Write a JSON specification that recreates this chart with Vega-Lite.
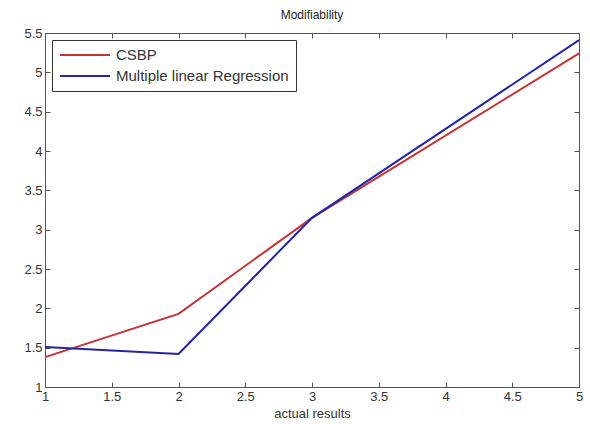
{
  "$schema": "https://vega.github.io/schema/vega-lite/v6.json",
  "width": 534,
  "height": 354,
  "autosize": {"type": "none"},
  "padding": {"left": 45, "top": 33, "right": 11, "bottom": 37},
  "background": "white",
  "title": {"text": "Modifiability", "fontSize": 12, "fontWeight": "normal", "font": "Liberation Sans", "color": "#222", "offset": 5},
  "data": {"values": [
    {"x": 1, "y": 1.38, "s": "CSBP"},
    {"x": 2, "y": 1.93, "s": "CSBP"},
    {"x": 3, "y": 3.15, "s": "CSBP"},
    {"x": 5, "y": 5.24, "s": "CSBP"},
    {"x": 1, "y": 1.51, "s": "Multiple linear Regression"},
    {"x": 2, "y": 1.42, "s": "Multiple linear Regression"},
    {"x": 3, "y": 3.15, "s": "Multiple linear Regression"},
    {"x": 5, "y": 5.41, "s": "Multiple linear Regression"}
  ]},
  "config": {
    "view": {"stroke": "#555", "strokeWidth": 1},
    "axis": {"domainColor": "#555", "tickColor": "#555", "tickSize": -5, "grid": false, "labelFont": "Liberation Sans", "labelFontSize": 13, "labelColor": "#333", "titleFont": "Liberation Sans", "titleFontSize": 13, "titleFontWeight": "normal", "titleColor": "#333", "labelFlush": false, "labelOverlap": false, "labelBound": false, "format": "~g"},
    "legend": {"orient": "top-left", "offset": 7, "strokeColor": "#333", "fillColor": "white", "padding": 7, "labelFont": "Liberation Sans", "labelFontSize": 15, "labelColor": "#333", "symbolType": "stroke", "symbolSize": 2500, "symbolStrokeWidth": 2, "rowPadding": 5, "labelOffset": 5, "title": null, "labelLimit": 400, "clipHeight": 16}
  },
  "layer": [
    {
      "mark": {"type": "line", "strokeWidth": 2},
      "encoding": {
        "x": {"field": "x", "type": "quantitative", "scale": {"domain": [1, 5], "nice": false}, "axis": {"values": [1, 1.5, 2, 2.5, 3, 3.5, 4, 4.5, 5], "title": "actual results", "titlePadding": 4, "labelPadding": 8}},
        "y": {"field": "y", "type": "quantitative", "scale": {"domain": [1, 5.5], "nice": false, "zero": false}, "axis": {"values": [1, 1.5, 2, 2.5, 3, 3.5, 4, 4.5, 5, 5.5], "title": null, "labelPadding": 8}},
        "color": {"field": "s", "type": "nominal", "sort": ["CSBP", "Multiple linear Regression"], "scale": {"domain": ["CSBP", "Multiple linear Regression"], "range": ["#c83232", "#2424a8"]}}
      }
    },
    {
      "mark": {"type": "line", "opacity": 0},
      "encoding": {
        "x": {"field": "x", "type": "quantitative", "axis": {"orient": "top", "values": [1, 1.5, 2, 2.5, 3, 3.5, 4, 4.5, 5], "labels": false, "title": null}},
        "y": {"field": "y", "type": "quantitative", "axis": {"orient": "right", "values": [1, 1.5, 2, 2.5, 3, 3.5, 4, 4.5, 5, 5.5], "labels": false, "title": null}},
        "detail": {"field": "s"}
      }
    }
  ],
  "resolve": {"axis": {"x": "independent", "y": "independent"}}
}
